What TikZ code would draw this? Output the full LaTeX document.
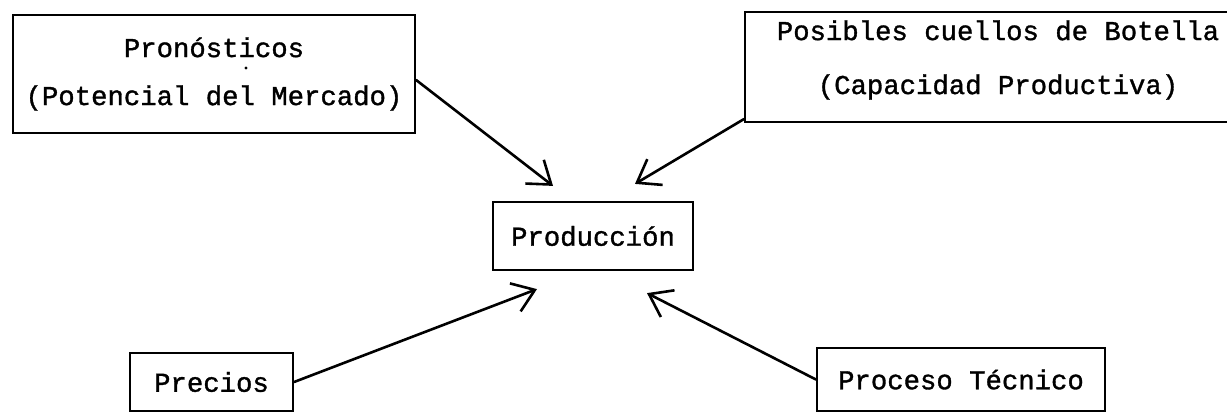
\documentclass[tikz,border=0pt]{standalone}
\usepackage{fontspec}
\setmonofont[FakeBold=1.2]{Liberation Mono}
\usetikzlibrary{arrows.meta}
\begin{document}
\begin{tikzpicture}[x=1pt,y=-1pt,
  frame/.style={draw, line width=2.2pt, inner sep=0pt},
  caption/.style={inner sep=0pt, align=center,
    font=\ttfamily\fontsize{27.3}{48}\selectfont},
  box/.style={frame, caption},
  link/.style={line width=2.6pt, line cap=round,
    -{Straight Barb[length=21pt,width=30pt,line width=2.6pt]}}]
\useasboundingbox (0,0) rectangle (1227,414);
\clip (0,0) rectangle (1227,414);

% sources
\node[box, minimum width=402pt, minimum height=118pt] (pron) at (214,74)
  {Pronósticos\\(Potencial del Mercado)};
\node[frame, minimum width=495pt, minimum height=110pt] (posib) at (992.5,67) {};
\node[caption, font=\ttfamily\fontsize{27.3}{54}\selectfont] (posibtxt) at (998,60)
  {Posibles cuellos de Botella\\(Capacidad Productiva)};
\node[box, minimum width=163pt, minimum height=58pt] (prec) at (211.5,382)
  {Precios};
\node[box, minimum width=288pt, minimum height=63pt] (proc) at (961,379.5)
  {Proceso Técnico};

% centre
\node[box, minimum width=200pt, minimum height=68pt] (prod) at (593,236)
  {Producción};

\fill (246,68) circle (1.6pt);

% influences on production
\draw[link] ([yshift=-6pt]pron.east) -- ([xshift=-40pt,yshift=15pt]prod.north);
\draw[link] ([yshift=4pt]posib.south west) -- ([xshift=42pt,yshift=17pt]prod.north);
\draw[link] (prec.east) -- ([xshift=-56pt,yshift=-18pt]prod.south);
\draw[link] (proc.west) -- ([xshift=54pt,yshift=-22pt]prod.south);
\end{tikzpicture}
\end{document}
